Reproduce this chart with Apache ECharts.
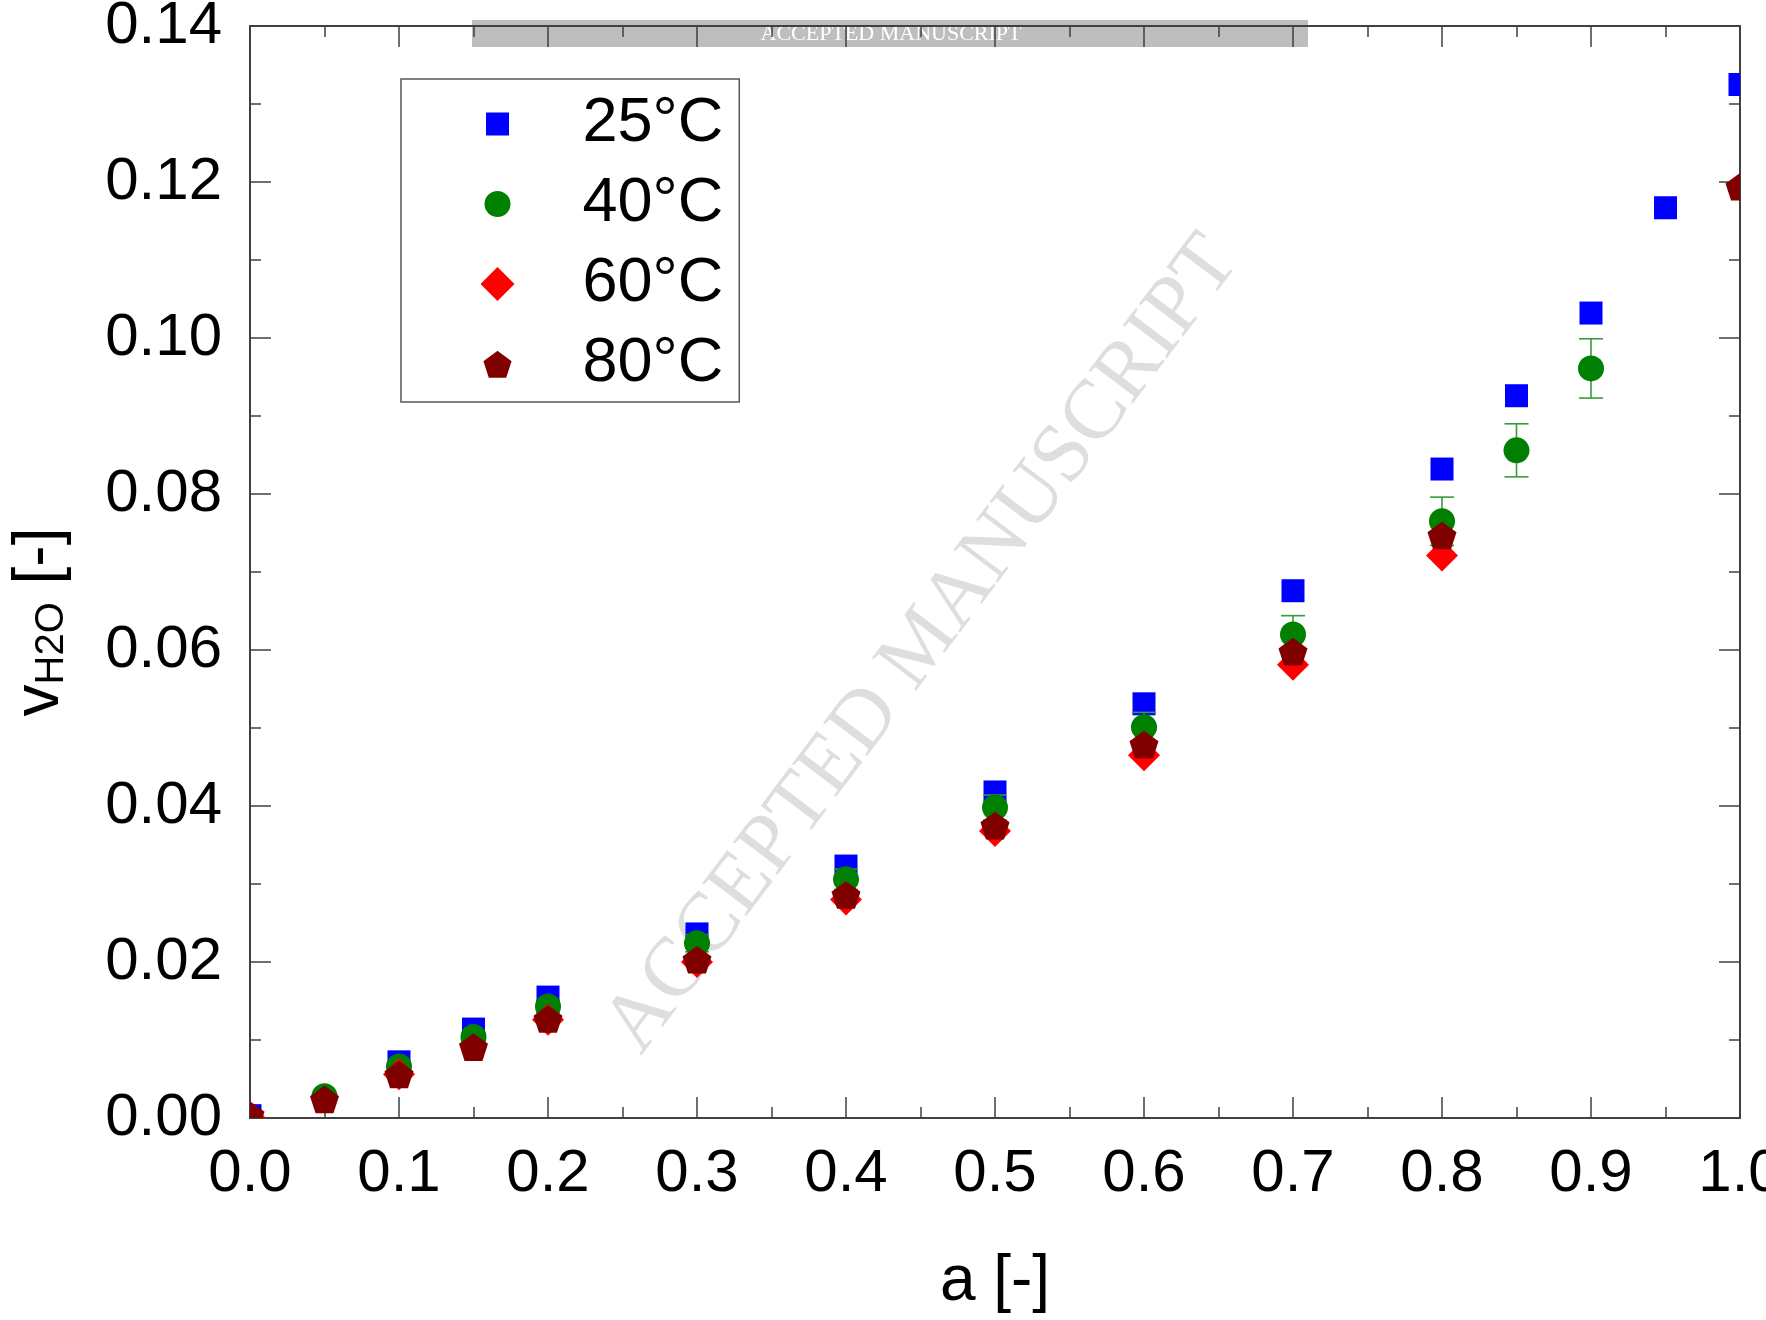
<!DOCTYPE html>
<html>
<head>
<meta charset="utf-8">
<script src="https://cdn.jsdelivr.net/npm/echarts@6/dist/echarts.min.js"></script>
<style>
  html, body { margin: 0; padding: 0; background: #fff; }
  #chart { width: 1766px; height: 1320px; }
</style>
</head>
<body>
<div id="chart"></div>
<script>
// Water uptake v_H2O versus activity a at four temperatures
const seriesNames = ['25°C', '40°C', '60°C', '80°C'];

const a25 = [0, 0.1, 0.15, 0.2, 0.3, 0.4, 0.5, 0.6, 0.7, 0.8, 0.85, 0.9, 0.95, 1.0];
const v25 = [0.0003, 0.0072, 0.0114, 0.0155, 0.0236, 0.0323, 0.0418, 0.0531, 0.0676, 0.0832, 0.0926, 0.1032, 0.1167, 0.1325];

const a40 = [0.05, 0.1, 0.15, 0.2, 0.3, 0.4, 0.5, 0.6, 0.7, 0.8, 0.85, 0.9];
const v40 = [0.0028, 0.0066, 0.0104, 0.0143, 0.0224, 0.0306, 0.0398, 0.0501, 0.0620, 0.0765, 0.0856, 0.0961];
const err40 = [0.0003, 0.0004, 0.0006, 0.0008, 0.0011, 0.0013, 0.0016, 0.0019, 0.0024, 0.0031, 0.0034, 0.0038];

const a60 = [0, 0.1, 0.2, 0.3, 0.4, 0.5, 0.6, 0.7, 0.8];
const v60 = [0.0000, 0.0056, 0.0126, 0.0200, 0.0280, 0.0368, 0.0465, 0.0581, 0.0721];

const a80 = [0, 0.05, 0.1, 0.15, 0.2, 0.3, 0.4, 0.5, 0.6, 0.7, 0.8, 1.0];
const v80 = [0.0002, 0.0022, 0.0054, 0.0089, 0.0125, 0.0201, 0.0284, 0.0373, 0.0477, 0.0596, 0.0745, 0.1192];

const colors = { c25: '#0000ff', c40: '#008000', c60: '#ff0000', c80: '#800000' };
const FONT = '"Liberation Sans", Arial, sans-serif';
const SERIF = '"Liberation Serif", "DejaVu Serif", serif';
const AXIS_COLOR = '#404040';

const PENTAGON = 'path://M0,-1L0.951,-0.309L0.588,0.809L-0.588,0.809L-0.951,-0.309Z';

function markShape(kind, p, size, color) {
  const x = p[0], y = p[1], h = size / 2;
  const style = { fill: color, stroke: null };
  if (kind === 'square') {
    return { type: 'rect', shape: { x: x - h, y: y - h, width: size, height: size }, style };
  }
  if (kind === 'circle') {
    return { type: 'circle', shape: { cx: x, cy: y, r: h }, style };
  }
  if (kind === 'diamond') {
    return { type: 'polygon', shape: { points: [[x, y - h], [x + h, y], [x, y + h], [x - h, y]] }, style };
  }
  // regular pentagon, point up; size is its width
  const r = size / 1.902;
  const pts = [];
  for (let k = 0; k < 5; k++) {
    const ang = -Math.PI / 2 + k * 2 * Math.PI / 5;
    pts.push([x + r * Math.cos(ang), y + r * Math.sin(ang)]);
  }
  return { type: 'polygon', shape: { points: pts }, style };
}

function markSeries(name, xs, ys, color, kind, size) {
  return {
    type: 'custom',
    name: name,
    clip: true,
    xAxisIndex: 0,
    yAxisIndex: 0,
    itemStyle: { color: color },
    encode: { x: 0, y: 1 },
    data: xs.map((x, i) => [x, ys[i]]),
    renderItem: (params, api) => {
      const p = api.coord([api.value(0), api.value(1)]);
      return markShape(kind, p, size, color);
    }
  };
}

const errorBarSeries = {
  type: 'custom',
  name: 'err40',
  clip: true,
  xAxisIndex: 0,
  yAxisIndex: 0,
  encode: { x: 0, y: 1 },
  data: a40.map((x, i) => [x, v40[i], err40[i]]),
  renderItem: (params, api) => {
    const x = api.value(0), y = api.value(1), e = api.value(2);
    const top = api.coord([x, y + e]);
    const bot = api.coord([x, y - e]);
    const hw = 12;
    const st = { stroke: '#3a9a3a', lineWidth: 1.6 };
    return {
      type: 'group',
      children: [
        { type: 'line', shape: { x1: top[0], y1: top[1], x2: bot[0], y2: bot[1] }, style: st },
        { type: 'line', shape: { x1: top[0] - hw, y1: top[1], x2: top[0] + hw, y2: top[1] }, style: st },
        { type: 'line', shape: { x1: bot[0] - hw, y1: bot[1], x2: bot[0] + hw, y2: bot[1] }, style: st }
      ]
    };
  }
};

const tickStyle = { color: AXIS_COLOR, width: 1.5 };
function frameAxis(extra) {
  return Object.assign({
    type: 'value',
    axisLine: { show: true, onZero: false, lineStyle: { color: AXIS_COLOR, width: 2 } },
    axisTick: { show: true, inside: true, length: 21, lineStyle: tickStyle },
    minorTick: { show: true, splitNumber: 2, length: 11, lineStyle: tickStyle },
    splitLine: { show: false },
    minorSplitLine: { show: false }
  }, extra);
}

const chart = echarts.init(document.getElementById('chart'), null, { renderer: 'canvas' });

chart.setOption({
  animation: false,
  backgroundColor: '#ffffff',
  grid: { left: 250, top: 26, right: 26, bottom: 202, containLabel: false, outerBoundsMode: 'none' },
  xAxis: [
    frameAxis({
      min: 0, max: 1, interval: 0.1, position: 'bottom',
      axisLabel: { show: true, margin: 26, fontSize: 60, color: '#000', fontFamily: FONT,
        formatter: v => v.toFixed(1) },
      name: 'a [-]',
      nameLocation: 'middle',
      nameGap: 132,
      nameTextStyle: { fontSize: 64, color: '#000', fontFamily: FONT }
    }),
    frameAxis({
      min: 0, max: 1, interval: 0.1, position: 'top',
      axisLabel: { show: false }
    })
  ],
  yAxis: [
    frameAxis({
      min: 0, max: 0.14, interval: 0.02, position: 'left',
      axisLabel: { show: true, margin: 28, fontSize: 60, color: '#000', fontFamily: FONT,
        formatter: v => v.toFixed(2) },
      name: '{v|v}{sub|H2O}{v| [-]}',
      nameLocation: 'middle',
      nameRotate: 90,
      nameGap: 178,
      nameTextStyle: {
        color: '#000',
        padding: [0, 100, 0, 0],
        rich: {
          v: { fontSize: 64, fontFamily: FONT, color: '#000' },
          sub: { fontSize: 40, fontFamily: FONT, color: '#000', verticalAlign: 'bottom' }
        }
      }
    }),
    frameAxis({
      min: 0, max: 0.14, interval: 0.02, position: 'right',
      axisLabel: { show: false }
    })
  ],
  legend: {
    orient: 'vertical',
    left: 401,
    top: 79,
    padding: [10, 16, 3, 74],
    itemGap: 10,
    itemWidth: 34,
    itemHeight: 34,
    selectedMode: false,
    backgroundColor: '#ffffff',
    borderColor: '#555555',
    borderWidth: 1.5,
    borderRadius: 0,
    textStyle: { fontSize: 63, lineHeight: 70, color: '#000', fontFamily: FONT, padding: [0, 0, 0, 63] },
    data: [
      { name: seriesNames[0], icon: 'rect', itemStyle: { color: colors.c25, borderColor: '#ffffff', borderWidth: 11 } },
      { name: seriesNames[1], icon: 'circle', itemStyle: { color: colors.c40, borderColor: '#ffffff', borderWidth: 8 } },
      { name: seriesNames[2], icon: 'diamond', itemStyle: { color: colors.c60, borderWidth: 0 } },
      { name: seriesNames[3], icon: PENTAGON, itemStyle: { color: colors.c80, borderColor: '#ffffff', borderWidth: 5 } }
    ]
  },
  graphic: [
    {
      type: 'text',
      x: 923, y: 645,
      rotation: 53 * Math.PI / 180,
      z: -5,
      silent: true,
      style: {
        text: 'ACCEPTED MANUSCRIPT',
        font: '84px ' + SERIF,
        fill: '#dedede',
        textAlign: 'center',
        textVerticalAlign: 'middle'
      }
    },
    {
      type: 'rect',
      z: -4,
      silent: true,
      shape: { x: 472, y: 20, width: 836, height: 27 },
      style: { fill: '#bebebe' }
    },
    {
      type: 'text',
      x: 891, y: 34,
      z: -3,
      silent: true,
      style: {
        text: 'ACCEPTED MANUSCRIPT',
        font: '22px ' + SERIF,
        fill: '#ffffff',
        textAlign: 'center',
        textVerticalAlign: 'middle'
      }
    }
  ],
  series: [
    markSeries(seriesNames[0], a25, v25, colors.c25, 'square', 23),
    errorBarSeries,
    markSeries(seriesNames[1], a40, v40, colors.c40, 'circle', 26),
    markSeries(seriesNames[2], a60, v60, colors.c60, 'diamond', 32),
    markSeries(seriesNames[3], a80, v80, colors.c80, 'pentagon', 29)
  ]
});
</script>
</body>
</html>
